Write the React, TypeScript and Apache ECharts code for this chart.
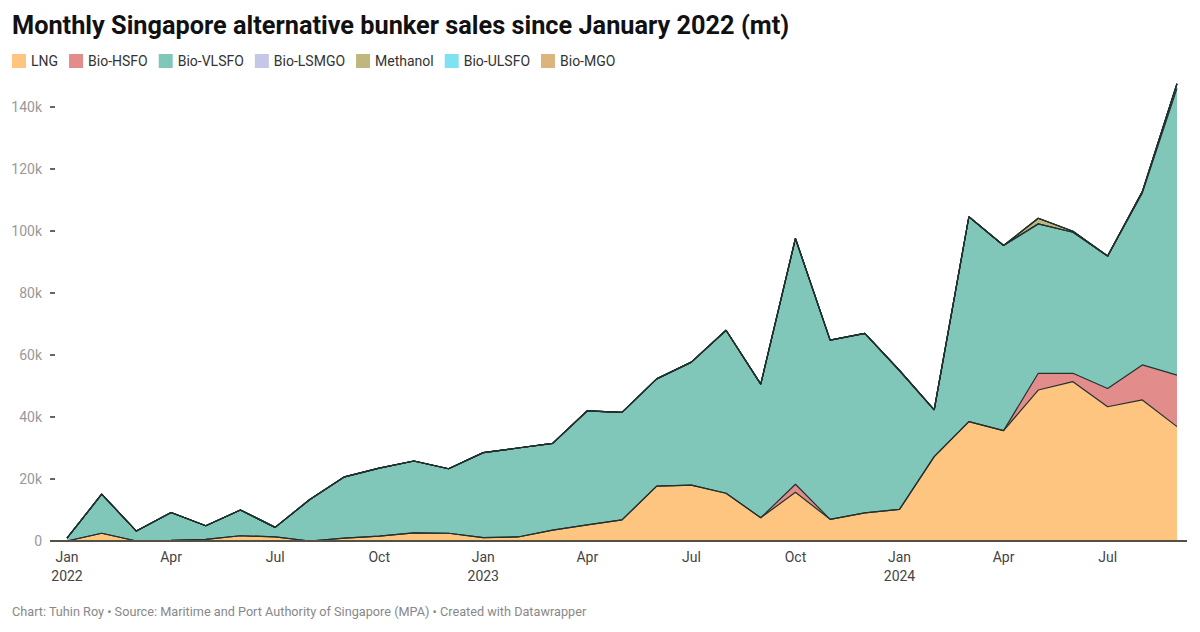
import React, { useEffect, useRef } from "react";
import * as echarts from "echarts";

const months: string[] = [
  "2022-01", "2022-02", "2022-03", "2022-04", "2022-05", "2022-06", "2022-07", "2022-08", "2022-09", "2022-10", "2022-11", "2022-12",
  "2023-01", "2023-02", "2023-03", "2023-04", "2023-05", "2023-06", "2023-07", "2023-08", "2023-09", "2023-10", "2023-11", "2023-12",
  "2024-01", "2024-02", "2024-03", "2024-04", "2024-05", "2024-06", "2024-07", "2024-08", "2024-09",
];

const lng: number[] = [
  0, 2500, 0, 200, 500, 1700, 1300, 0, 900, 1600, 2600, 2500,
  1100, 1300, 3500, 5200, 6800, 17700, 18000, 15400, 7500, 15700, 7000, 9100,
  10200, 27200, 38500, 35600, 48700, 51400, 43300, 45500, 36900,
];
const bioHsfo: number[] = [
  0, 0, 0, 0, 0, 0, 0, 0, 0, 0, 0, 0,
  0, 0, 0, 0, 0, 0, 0, 0, 0, 2600, 0, 0,
  0, 0, 0, 0, 5400, 2700, 5900, 11300, 16600,
];
const bioVlsfo: number[] = [
  900, 12600, 3200, 9000, 4400, 8300, 3100, 13400, 19800, 21900, 23200, 20800,
  27400, 28700, 28000, 36800, 34700, 34600, 39700, 52600, 43100, 79300, 57800, 57900,
  44800, 15100, 66100, 59700, 48200, 45500, 42700, 55400, 92500,
];
const bioLsmgo: number[] = [
  0, 0, 0, 0, 0, 0, 0, 0, 0, 0, 0, 0,
  0, 0, 0, 0, 0, 0, 0, 0, 0, 0, 0, 0,
  0, 0, 0, 0, 0, 0, 0, 500, 1500,
];
const methanol: number[] = [
  0, 0, 0, 0, 0, 0, 0, 0, 0, 0, 0, 0,
  0, 0, 0, 0, 0, 0, 0, 0, 0, 0, 0, 0,
  0, 0, 0, 0, 1800, 300, 0, 0, 0,
];
const bioUlsfo: number[] = [
  0, 0, 0, 0, 0, 0, 0, 0, 0, 0, 0, 0,
  0, 0, 0, 0, 0, 0, 0, 0, 0, 0, 0, 0,
  0, 0, 0, 0, 0, 0, 0, 0, 0,
];
const bioMgo: number[] = [
  0, 0, 0, 0, 0, 0, 0, 0, 0, 0, 0, 0,
  0, 0, 0, 0, 0, 0, 0, 0, 0, 0, 0, 0,
  0, 0, 0, 0, 0, 0, 0, 0, 0,
];

const seriesNames: string[] = ["LNG", "Bio-HSFO", "Bio-VLSFO", "Bio-LSMGO", "Methanol", "Bio-ULSFO", "Bio-MGO"];
const seriesColors: string[] = ["#fdc57f", "#e28d8b", "#80c7ba", "#c6c6e8", "#bfb77f", "#80e1f2", "#dcb47e"];
const seriesData: number[][] = [lng, bioHsfo, bioVlsfo, bioLsmgo, methanol, bioUlsfo, bioMgo];

const yTicks: number[] = [0, 20000, 40000, 60000, 80000, 100000, 120000, 140000];
const monthAbbr: string[] = ["Jan", "Feb", "Mar", "Apr", "May", "Jun", "Jul", "Aug", "Sep", "Oct", "Nov", "Dec"];

const FONT = "Roboto, 'Noto Sans', sans-serif";

export default function App() {
  const ref = useRef<HTMLDivElement>(null);

  useEffect(() => {
    if (!ref.current) return;
    const chart = echarts.init(ref.current, undefined, { renderer: "svg" });
    chart.setOption({
      animation: false,
      backgroundColor: "#ffffff",
      textStyle: { fontFamily: FONT },
      title: {
        text: "Monthly Singapore alternative bunker sales since January 2022 (mt)",
        left: 7,
        top: 8,
        textStyle: { fontFamily: FONT, fontSize: 25.3, fontWeight: "bold", color: "#111" },
      },
      legend: {
        left: 7,
        top: 49,
        icon: "rect",
        itemWidth: 14,
        itemHeight: 14,
        itemGap: 11,
        textStyle: { fontFamily: FONT, fontSize: 14, color: "#333" },
        data: seriesNames,
      },
      grid: { left: 67, right: 23, top: 76, bottom: 91, containLabel: false },
      xAxis: {
        type: "category",
        data: months,
        boundaryGap: false,
        axisLine: { show: false },
        axisTick: { show: false },
        axisLabel: {
          interval: (i: number) => i % 3 === 0,
          margin: 6,
          color: "#444",
          fontSize: 14,
          fontFamily: FONT,
          lineHeight: 19,
          formatter: (v: string) => {
            const [y, m] = v.split("-");
            const mi = parseInt(m, 10) - 1;
            return mi === 0 ? monthAbbr[mi] + "\n" + y : monthAbbr[mi];
          },
        },
        splitLine: { show: false },
      },
      yAxis: {
        type: "value",
        min: 0,
        max: 150000,
        interval: 10000,
        offset: 12,
        axisLine: { show: false },
        axisTick: {
          show: true,
          length: 5,
          customValues: yTicks.slice(1),
          lineStyle: { color: "#333", width: 1.5 },
        },
        axisLabel: {
          customValues: yTicks,
          margin: 13,
          color: "#999",
          fontSize: 14,
          fontFamily: FONT,
          formatter: (v: number) => (v === 0 ? "0" : v / 1000 + "k"),
        },
        splitLine: { show: false },
      },
      graphic: [
        {
          type: "line",
          shape: { x1: 50, y1: 541, x2: 1187, y2: 541 },
          style: { stroke: "#555046", lineWidth: 2 },
          z: 100,
        },
        {
          type: "text",
          left: 12,
          top: 605,
          style: {
            text: "Chart: Tuhin Roy • Source: Maritime and Port Authority of Singapore (MPA) • Created with Datawrapper",
            font: "12.7px " + FONT,
            fill: "#888",
          },
        },
      ],
      series: seriesNames.map((name, i) => ({
        name,
        type: "line",
        stack: "total",
        data: seriesData[i],
        symbol: "none",
        showSymbol: false,
        itemStyle: { color: seriesColors[i] },
        lineStyle: { color: "#22302e", width: 1.2 },
        areaStyle: { color: seriesColors[i], opacity: 1 },
        emphasis: { disabled: true },
      })),
    });
    return () => chart.dispose();
  }, []);

  return (
    <div
      ref={ref}
      style={{ position: "fixed", left: 0, top: 0, width: 1200, height: 632, background: "#fff" }}
    />
  );
}
